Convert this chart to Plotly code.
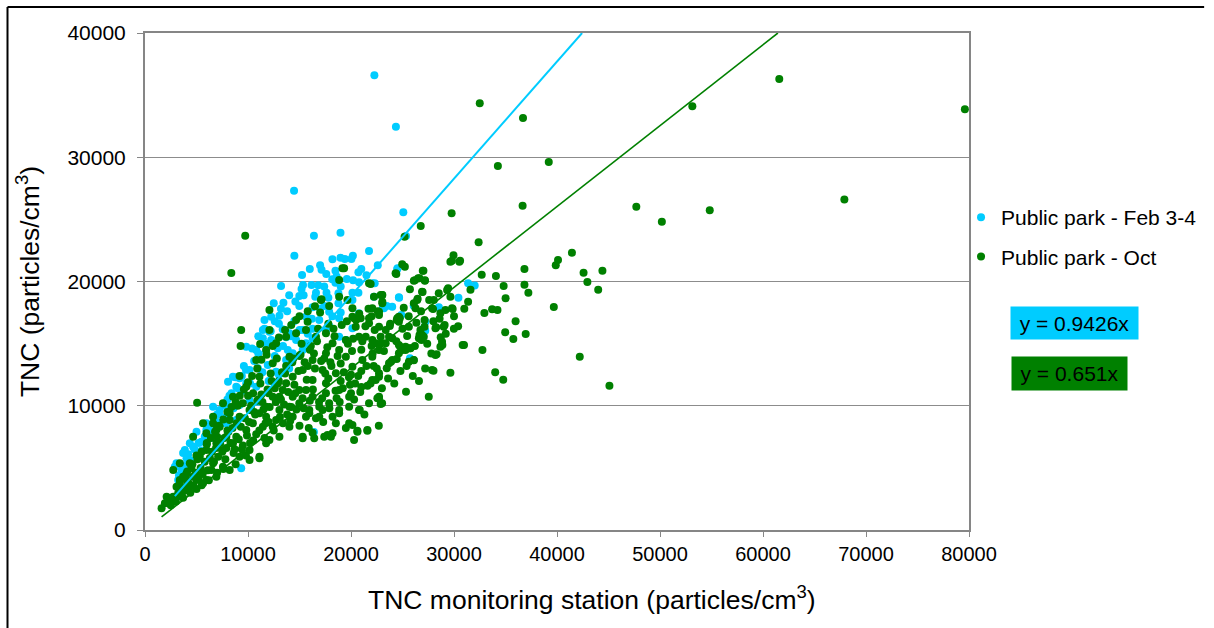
import plotly.graph_objects as go

# ---------------- data ----------------
FEB_SLOPE = 0.9426
OCT_SLOPE = 0.651

feb_x = [22270, 24360, 14470, 25080, 25340, 16400, 18980, 14500, 18200, 18980, 19400, 20040, 20180, 21750,
         24520, 15250, 17140, 18490, 20720, 13210, 15340, 16170, 16820, 18180, 18490, 20780, 22300, 14980,
         16530, 17620, 18780, 20140, 20720, 24650, 31370, 32010, 30430, 28530, 26090, 24890, 24670, 23100,
         23470, 27210, 25720,
         12500, 13440, 14980, 16270, 17400, 17880, 18780, 20140,
         11600, 12250, 13050, 14500, 15630, 16920, 17880, 18850,
         11440, 12080, 13370, 14020, 15310, 16270, 17570,
         11440, 12250, 13700, 14670, 15630, 16270,
         9830, 10800, 11760, 12890, 13860, 14340, 15310,
         8540, 9180, 10150, 10960, 11920, 12730, 13700,
         8860, 9830, 10800, 8060,
         6610, 7250, 8220, 9180, 10150, 10960,
         5960, 6930, 7900, 8860,
         5000, 5800, 6610,
         3870, 4670, 5480, 4030, 3060, 3700,
         2900, 3550, 3220, 9340, 16400,
         27070, 27230, 24000, 23200, 24490, 22070, 22230, 20140, 20780, 18850, 19500,
         3700, 4350, 5960, 6930, 7900, 12000, 13000, 14000, 7000, 8000, 9500, 19000,
         3300, 3800, 4200, 4500, 4800, 5200, 5500, 5900, 6200, 6500, 6800, 7200, 7500, 7800, 8200, 8600,
         9000, 9400, 9800, 10200, 10600, 11000, 11400, 11800, 12200, 12600, 13000, 13400, 13800, 14200,
         14600, 15000, 15400, 15800, 16200, 16600, 17000, 17400, 17800, 18200, 18600, 19000, 19600, 20200,
         21000, 21500, 22600,
         8400, 8800, 9600, 10400, 11000, 11600, 12600, 13200, 14000, 15200, 16000, 17000, 17600]
feb_y = [36600, 32460, 27310, 25570, 23660, 23690, 23930, 22080, 21790, 21920, 21810, 21810, 22080, 22450,
         21060, 20520, 20950, 20870, 20740, 19640, 19720, 19720, 19690, 20180, 19900, 19940, 19860, 18830,
         18780, 19100, 19050, 19100, 19100, 18730, 19860, 19670, 18700, 17920, 18050, 17300, 18700, 17920,
         18030, 16040, 13820,
         18250, 18290, 18030, 17920, 18030, 17570, 18250, 18510,
         16900, 17170, 17250, 16820, 17170, 16900, 16420, 17040,
         16100, 15960, 16150, 15830, 16100, 16200, 16100,
         15430, 15290, 15510, 15290, 15030, 15430,
         14750, 14490, 14350, 14620, 14490, 14220, 14490,
         12340, 12210, 12880, 13010, 13280, 12740, 13680,
         11530, 11810, 11530, 11940,
         9920, 9660, 9920, 10060, 10460, 10330,
         8590, 8310, 8590, 8850,
         7910, 7510, 7650,
         6440, 6710, 7110, 5770, 5370, 4690,
         5090, 4830, 4020, 4960, 7890,
         16230, 16760, 17970, 17840, 21000, 19860, 18780, 16230, 17440, 15560, 15290,
         6200, 6980, 8050, 8720, 9120, 12000, 12500, 13000, 9300, 10500, 11200, 17500,
         4400, 5200, 6100, 5600, 6500, 7000, 6400, 7600, 8100, 7400, 8800, 9400, 8600, 10000, 10800, 9800,
         11400, 12400, 12900, 11800, 13600, 14200, 12700, 15000, 16000, 14000, 16600, 14800, 17600, 15600,
         18400, 16100, 18900, 15800, 17000, 19100, 17800, 19600, 18700, 17200, 20400, 19600, 20200, 20100,
         21000, 20500, 21300,
         11000, 12300, 13200, 14600, 15600, 16200, 16800, 17800, 18900, 19400, 21000, 21300, 20600]

oct_x = [32500, 36700, 61580, 53140, 79600, 34260, 39200, 36660, 47700, 50180, 54830, 67900, 29770, 26770,
         32390, 41450, 40100, 39880, 29800, 29950, 30590, 36840, 42580, 44410, 42950, 44000, 36840, 37220,
         32690, 34070, 34820, 35010, 39690, 32950, 33700, 34220, 35980, 34970, 35760, 36960, 42210, 45090,
         34000, 34780, 32760, 30970, 29650, 28010, 25340, 27550, 31370, 31600, 29430, 29650, 29870, 28310,
         28710, 28870, 28270, 29090, 29990, 27030, 26200, 27180, 24970, 25230, 24400, 25120, 25720, 26950,
         26470, 23020, 26090, 27590, 27970, 27140, 27140, 26350, 24740, 24440, 23770, 22720, 22720, 23020,
         23470, 23880, 24440, 24780, 25720, 26840, 26650, 25450, 22940, 22720,
         9730, 8380, 19330, 21910, 25200, 18850, 17140, 22230, 23040, 26100, 26520,
         26970, 26650, 27170, 29650, 30520, 26430, 26100, 28040, 28520, 29330, 29170, 27870, 28680, 29810,
         24490, 24650, 25620, 26740, 27070, 28200, 29000, 30840, 28840, 28680, 28200,
         23040, 22070, 22720, 20140, 20300, 20940, 21750, 21750,
         22720, 22880, 22070, 23370, 24010, 24650, 25300, 25780, 24650, 24010, 23690, 22720, 22400, 26100,
         20850, 19820, 18850, 20140, 20620, 21590, 18210, 17720, 16430, 15310, 18210, 17240, 15950,
         22560, 22880,
         5060, 9280, 12080, 14670, 15790, 17080, 17880, 19650, 19170, 21750, 22880, 23040, 24330, 26900,
         26260, 24650, 22720, 20140, 20460, 21430, 22400, 23370, 23690, 24970, 25300, 26590, 25620, 27870,
         26900, 22070, 22720, 21750, 20780, 19820, 20620, 21590, 20300, 18530, 18050, 17400, 16270,
         18850, 19820, 17880, 18850, 16920, 15950, 14980, 14020, 13050, 14340, 15630, 16920,
         13050, 12080, 11110, 10150, 9180, 8540, 7570, 7570, 6610, 5960, 5000, 4030, 3060, 2420, 1610, 1930,
         10150, 11110, 11760, 12400, 13370, 13700, 14340, 15310, 16270, 17570, 18850, 19500, 17240, 14980,
         12730, 11440, 9830, 8860, 7900, 6930, 5960, 5320, 4350, 3700, 3380, 9180, 10470, 8220, 7250, 11760,
         13050, 14340, 15630, 16270, 17570, 18530, 20140, 21110, 22070, 16270, 17570,
         10800, 11760, 12730, 13700, 14670, 15630, 16600, 17570, 18210, 19500, 20780, 14020, 12400, 11110,
         9830, 8540, 7570, 6610, 5640, 4670, 3380, 2740, 9180, 9340, 12080, 6450, 3380, 2740, 2100,
         2260, 3220, 3380, 4030, 4670, 5640, 6930, 8220, 10150, 11110, 11760, 14020, 15310, 5960, 6930,
         6610, 8220, 9500, 11180, 18850,
         17000, 15000, 16000, 18000, 19000, 20000, 21000, 20000, 21000, 22000, 13000, 12000, 11000, 10000,
         9000, 8000, 7000, 6000, 5000, 4500, 4000, 3500,
         2500, 2800, 3100, 3400, 3600, 3900, 4200, 4400, 4700, 4900, 5200, 5400, 5600, 5800, 6100, 6300,
         6500, 6700, 6900, 7100, 7300, 7500, 7700, 7900, 8100, 8300, 8500, 8700, 8900, 9100, 9300, 9500,
         9700, 9900, 10100, 10300, 10500, 10700, 10900, 11100, 11300, 11500, 11700, 11900, 12100, 12300,
         12500, 12700, 12900, 13100, 13300, 13500, 13700, 13900, 14100, 14300, 14500, 14700, 14900, 15100,
         15300, 15500, 15700, 15900, 16100, 16300, 16500, 16700, 16900, 17100, 17300, 17500, 17700, 17900,
         18100, 18300, 18500, 18700, 18900, 19100, 19300, 19500, 19700, 19900, 20100, 20300, 20500, 20700,
         20900, 21100, 21300, 21500, 21700, 21900, 22100, 22300, 22500, 22700,
         4100, 4600, 5100, 5500, 6000, 6400, 6800, 7200, 7600, 8000, 8400, 8800, 9200, 9600, 10000, 10400,
         10900, 11300, 11800, 12400, 13000, 13600, 14200, 15000, 15800, 16500,
         10500, 11200, 12200, 12800, 13600, 14400, 15200, 15800, 16400, 16800, 17400, 17800, 18400, 19000,
         19600, 20200, 20800, 21400, 22000, 22600, 23200, 23800, 24400, 25000, 25600, 26200, 26800, 27400,
         28000, 28600, 29200, 30000, 30400, 31000,
         10600, 11400, 12000, 12600, 13200, 13800, 14600, 15400, 16000, 16600, 17200, 17800, 18600, 19200,
         19800, 20400, 21000, 21600, 22200, 23000, 23600, 24200, 24800, 25400, 26000, 26600, 27200, 27800,
         7800, 8600, 9400, 10200, 10800, 11600, 12400, 13400, 14200, 15000, 5500, 6200, 7000, 7600, 8800,
         9800, 3000, 3700, 4400, 5000]
oct_y = [34340, 33160, 36300, 34100, 33860, 29300, 29620, 26100, 26020, 24810, 25730, 26600, 25490, 24470,
         23150, 22320, 21730, 21300, 21670, 22110, 21670, 21000, 20710, 20870, 19960, 19340, 19740, 19100,
         20550, 20440, 19640, 18650, 17950, 17460, 17760, 17710, 16800, 15910, 15370, 15770, 13950, 11610,
         12690, 12100, 14490, 14890, 12660, 12820, 11130, 10730, 18370, 19340, 19450, 18780, 17790, 14140,
         15510, 14890, 16310, 16500, 16200, 20870, 20100, 20100, 21380, 21190, 20600, 17890, 19370, 19150,
         18620, 18910, 13660, 18510, 17790, 16900, 16360, 16680, 17040, 16900, 16420, 12340, 10600, 10200,
         13010, 13550, 13760, 14750, 14620, 15290, 15690, 15610, 15030, 14490,
         23690, 20680, 21060, 19800, 23600, 18780, 18570, 18780, 18910, 20060, 20260,
         20870, 20260, 20060, 21590, 21590, 18510, 18250, 18510, 19050, 19320, 17710, 17840, 17440, 17840,
         17040, 16770, 16360, 16100, 15560, 16230, 16360, 14890, 15160, 14750, 14080,
         18250, 17840, 17300, 17840, 17040, 17040, 17040, 16630,
         16360, 15560, 15290, 15030, 15430, 14890, 14490, 14620, 14220, 13680, 13420, 12610, 12070, 13680,
         9660, 9920, 9390, 8450, 7990, 7990, 7780, 7650, 7380, 7380, 9120, 9660, 9390,
         10600, 10140,
         10250, 14810, 17710, 16900, 16770, 18510, 18030, 18510, 21060, 19860, 18910, 18370, 20660, 19180,
         17840, 17170, 17570, 17170, 16360, 15560, 15030, 16100, 15560, 14490, 14750, 15430, 13550, 12880,
         15690, 12070, 10730, 10200, 9660, 8590, 7910, 8050, 7240, 8590, 7510, 7510, 7830,
         11270, 10730, 10200, 9660, 9920, 9660, 10200, 9920, 9660, 9120, 9120, 9120,
         7510, 7240, 5770, 6440, 5900, 6980, 6440, 5090, 5370, 4020, 4020, 4020, 3480, 2550, 1750, 2150,
         9660, 9390, 9920, 10730, 11270, 11810, 12340, 12880, 13680, 14220, 14490, 13950, 12880, 11270,
         8850, 8310, 8050, 7510, 7510, 6980, 6440, 5900, 5370, 4290, 3760, 9120, 8590, 8850, 8310, 9120,
         10730, 10730, 11270, 12070, 11810, 12610, 13140, 13680, 13950, 10730, 11000,
         13680, 14490, 15030, 15560, 15830, 16100, 15560, 15830, 15030, 15290, 15560, 13950, 13420, 12340,
         11530, 10730, 10200, 9120, 8590, 7510, 5370, 4830, 12390, 16100, 16100, 4830, 3080, 2680, 2680,
         2410, 2950, 4020, 3480, 4290, 3760, 4290, 4830, 5630, 5900, 6980, 8310, 7510, 7780, 8050,
         8590, 9390, 10200, 14970, 20120,
         17500, 14000, 14500, 13500, 12000, 12500, 11500, 11000, 14500, 14800, 12000, 11000, 10500, 10800,
         10000, 8000, 7500, 7000, 6000, 5000, 4500, 3000,
         2000, 2400, 2700, 3300, 2700, 3200, 3800, 3000, 3600, 4600, 4100, 5000, 4500, 5500, 4800, 5800,
         6300, 5500, 6600, 5900, 7000, 6300, 7400, 6600, 7900, 7000, 8200, 6500, 8600, 7300, 8300, 6800,
         9000, 7600, 8700, 10000, 7200, 9300, 10400, 8000, 10900, 9700, 8600, 11300, 9900, 12000,
         8000, 10300, 11800, 9100, 12700, 10100, 13200, 11100, 8800, 13500, 11700, 9700, 12800, 14100,
         10600, 13500, 12100, 8200, 14800, 11300, 13000, 15200, 10300, 13600, 8700, 12600, 14700, 9800,
         13200, 16200, 11200, 14000, 10300, 16500, 12700, 8200, 15000, 11700, 14400, 10500, 16900, 12400,
         11100, 15200, 9300, 13200, 17800, 11800, 14200, 16100, 13000, 8400,
         4700, 5300, 5700, 6300, 6900, 7400, 7900, 8400, 8900, 9500, 9900, 10300, 10800, 11300, 11900, 12400,
         13000, 13700, 14100, 14800, 15500, 16100, 16500, 17200, 17600, 18000,
         11000, 11800, 12600, 13800, 12600, 13800, 15000, 13200, 14200, 16200, 13800, 16600, 15600, 13400,
         16800, 15400, 17400, 16400, 17200, 17600, 14400, 16600, 15200, 16200, 17200, 14800, 17600, 15000,
         16800, 17000, 15800, 17200, 16400, 17800,
         9500, 10300, 8700, 11400, 10500, 9300, 11000, 9800, 10400, 9000, 10600, 12200, 10600, 11400,
         12300, 11800, 12800, 11600, 13200, 11400, 12200, 11800, 12800, 13200, 12400, 12000, 13000, 14200,
         5700, 6200, 6500, 7000, 7700, 7400, 8300, 8600, 9900, 8400, 3600, 4000, 4600, 4900, 5300,
         6000, 2300, 2600, 3500, 3300]

x_ticks = [0, 10000, 20000, 30000, 40000, 50000, 60000, 70000, 80000]
y_ticks = [0, 10000, 20000, 30000, 40000]

CYAN = "#00CCFF"
GREEN = "#008000"
FONT = "Liberation Sans, Arial, sans-serif"

fig = go.Figure()

fig.add_trace(go.Scatter(
    x=feb_x, y=feb_y, mode="markers", name="Public park - Feb 3-4",
    marker=dict(color=CYAN, size=8), legendgroup="a"))
fig.add_trace(go.Scatter(
    x=oct_x, y=oct_y, mode="markers", name="Public park - Oct",
    marker=dict(color=GREEN, size=8), legendgroup="b"))

# linear trendlines through the origin
fx0 = min(feb_x)
fx1 = y_ticks[-1] / FEB_SLOPE
fig.add_trace(go.Scatter(x=[fx0, fx1], y=[FEB_SLOPE * fx0, FEB_SLOPE * fx1], mode="lines",
                         line=dict(color=CYAN, width=2), showlegend=False, hoverinfo="skip"))
ox0 = min(oct_x)
ox1 = y_ticks[-1] / OCT_SLOPE
fig.add_trace(go.Scatter(x=[ox0, ox1], y=[OCT_SLOPE * ox0, OCT_SLOPE * ox1], mode="lines",
                         line=dict(color=GREEN, width=1.6), showlegend=False, hoverinfo="skip"))

W, H = 1214, 628
L, R, T, B = 145, 242, 33, 98
pw, ph = W - L - R, H - T - B


def px_x(p):
    return (p - L) / pw


def px_y(p):
    return (H - B - p) / ph


fig.update_layout(
    width=W, height=H,
    margin=dict(l=L, r=R, t=T, b=B),
    paper_bgcolor="white", plot_bgcolor="white",
    font=dict(family=FONT, color="#000000", size=20),
    showlegend=True,
    legend=dict(x=px_x(964), y=px_y(197), xanchor="left", yanchor="top",
                font=dict(size=21, family=FONT, color="#000"),
                traceorder="grouped", tracegroupgap=9,
                itemwidth=30, bgcolor="rgba(0,0,0,0)"),
    xaxis=dict(range=[x_ticks[0], x_ticks[-1]], tickvals=x_ticks, ticktext=[str(v) for v in x_ticks],
               showgrid=False, zeroline=False,
               showline=True, linecolor="#868686", linewidth=2, mirror=True,
               ticks="outside", ticklen=5, tickcolor="#868686", tickwidth=1,
               tickfont=dict(size=20, family=FONT, color="#000")),
    yaxis=dict(range=[y_ticks[0], y_ticks[-1]], tickvals=y_ticks, ticktext=[str(v) for v in y_ticks],
               showgrid=True, gridcolor="#8c8c8c", gridwidth=1, zeroline=False,
               showline=True, linecolor="#868686", linewidth=2, mirror=True,
               ticks="outside", ticklen=6, tickcolor="#868686", tickwidth=1,
               ticklabelstandoff=7,
               tickfont=dict(size=21, family=FONT, color="#000"),
               title=dict(text="TNC (particles/cm<sup>3</sup>)",
                          font=dict(size=26.5, family=FONT, color="#000"), standoff=20)),
)

# x-axis title (placed as in the reference, slightly right of centre)
fig.add_annotation(xref="paper", yref="paper", x=px_x(594), y=px_y(598), xanchor="center", yanchor="middle",
                   text="TNC monitoring station (particles/cm<sup>3</sup>)", showarrow=False,
                   font=dict(size=26.5, family=FONT, color="#000"))

# equation boxes
fig.add_annotation(xref="paper", yref="paper", x=px_x(1013), y=px_y(323), xanchor="left", yanchor="middle",
                   text="y = 0.9426x", showarrow=False, bgcolor=CYAN, width=121, height=26, borderpad=3,
                   font=dict(size=21, family=FONT, color="#000"), align="center")
fig.add_annotation(xref="paper", yref="paper", x=px_x(1014), y=px_y(374), xanchor="left", yanchor="middle",
                   text="y = 0.651x", showarrow=False, bgcolor=GREEN, width=109, height=27, borderpad=3,
                   font=dict(size=21, family=FONT, color="#000"), align="center")

# outer frame (left and top edges)
fig.add_shape(type="line", xref="paper", yref="paper", x0=px_x(7), x1=px_x(7), y0=px_y(7), y1=px_y(H + 5),
              line=dict(color="#000", width=2))
fig.add_shape(type="line", xref="paper", yref="paper", x0=px_x(7), x1=px_x(1208), y0=px_y(7), y1=px_y(7),
              line=dict(color="#000", width=2))

fig.write_html("out.html")
